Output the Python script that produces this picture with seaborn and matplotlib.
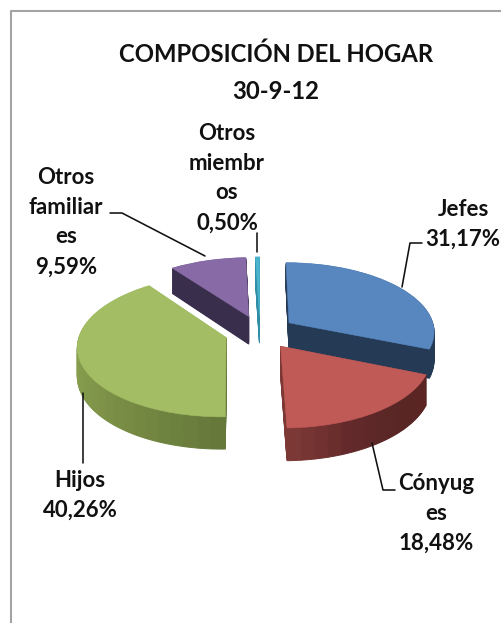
import numpy as np
import matplotlib
matplotlib.use("Agg")
import matplotlib.pyplot as plt
from matplotlib.lines import Line2D
from matplotlib.transforms import Transform
import seaborn as sns

W, H = 501, 623

# datos
categorias = ["Jefes", "Cónyug\nes", "Hijos", "Otros\nfamiliar\nes", "Otros\nmiembr\nos"]
valores = [31.17, 18.48, 40.26, 9.59, 0.50]
colores = ["#5887c0", "#c05a57", "#a2bd63", "#886ba6", "#4bb5cf"]
# sombras de la pared lateral, en sentido horario
paredes = [
    ["#243a55", "#243a55"],
    ["#5a2523", "#592625", "#62292a", "#7c3835"],
    ["#66793b", "#7d9247", "#8ea652", "#a0ba60"],
    ["#3a2e4d", "#3a2e4d"],
    ["#2f8ea5", "#2f8ea5"],
]
titulo = "COMPOSICIÓN DEL HOGAR\n30-9-12"

sns.set_theme(style="white")
plt.rcParams["font.family"] = ["Lato", "DejaVu Sans"]

# perspectiva: el frente del pastel se ve mas grande que el fondo
K = 0.114
RX, RY = 146, 69
CX, CY = 260, 332
EXPLODE = 0.243
DEPTH = 0.41


class Perspectiva(Transform):
    input_dims = 2
    output_dims = 2

    def __init__(self, baja=0.0):
        super().__init__()
        self.baja = baja

    def transform_non_affine(self, values):
        xy = np.asarray(values)
        w = 1 + K * xy[:, 1]
        return np.column_stack([xy[:, 0] / w, (xy[:, 1] - self.baja) / w])


fig = plt.figure(figsize=(W / 100, H / 100), dpi=100)
ax = fig.add_axes([0, 0, 1, 1])

total = sum(valores)
acum = np.cumsum([0] + valores)


def porcion(i, subs, cols, baja=0.0, lw=0.5):
    # dibuja una sola porcion desplazada; el resto del pastel queda invisible
    medio = (acum[i] + valores[i] / 2) / total * 2 * np.pi
    centro = (EXPLODE * np.sin(medio), EXPLODE * np.cos(medio))
    vals = [acum[i]] + subs + [total - acum[i + 1]]
    wedges, _ = ax.pie(vals, colors=["none"] + cols + ["none"], startangle=90,
                       counterclock=False, center=centro, normalize=True)
    wedges[0].set_visible(False)
    wedges[-1].set_visible(False)
    for w in wedges[1:-1]:
        w.set_edgecolor(w.get_facecolor())
        w.set_linewidth(lw)
        w.set_transform(Perspectiva(baja) + ax.transData)


# pared lateral: capas apiladas, del fondo hacia el frente
n_sub = [3, 14, 30, 1, 1]
for i in [3, 4, 0, 2, 1]:
    n = n_sub[i]
    subs = [valores[i] / n] * n
    cols = sns.blend_palette(paredes[i], max(n, 2))[:n]
    for d in np.linspace(DEPTH, 0.01, 34):
        porcion(i, subs, cols, baja=d, lw=0.7)

# cara superior
for i in [3, 4, 0, 2, 1]:
    porcion(i, [valores[i]], [colores[i]], lw=0.4)

ax.set_aspect("auto")
ax.set_xlim(-CX / RX, (W - CX) / RX)
ax.set_ylim((CY - H) / RY, CY / RY)
ax.set_axis_off()


def px(x, y):
    return x / W, 1 - y / H


def linea(puntos, color="#111111", lw=1.15):
    xs, ys = zip(*[px(*p) for p in puntos])
    fig.add_artist(Line2D(xs, ys, color=color, lw=lw, transform=fig.transFigure))


# marco gris recortado
linea([(10.5, H), (10.5, 11), (W, 11)], color="#a3a3a3", lw=1.5)

# titulo
x, y = px(276, 73)
fig.text(x, y, titulo, ha="center", va="center", fontsize=17.2, fontweight="bold",
         color="#111111", linespacing=1.72)

# etiquetas
pos_etiquetas = [(463, 224), (436, 513), (80, 495), (66, 222), (227, 178)]
for nombre, v, (ex, ey) in zip(categorias, valores, pos_etiquetas):
    x, y = px(ex, ey)
    txt = f"{nombre}\n{v:.2f}%".replace(".", ",")
    fig.text(x, y, txt, ha="center", va="center", fontsize=16, fontweight="bold",
             color="#111111", linespacing=1.52)

# lineas guia
linea([(422, 243), (410, 243), (402, 287)])
linea([(372, 443), (383, 490), (395, 490)])
linea([(83, 393), (83, 463)])
linea([(110, 213), (122, 213), (205, 256)])
linea([(257, 233), (257, 252)])

fig.savefig("out.png", dpi=100, facecolor="white")
